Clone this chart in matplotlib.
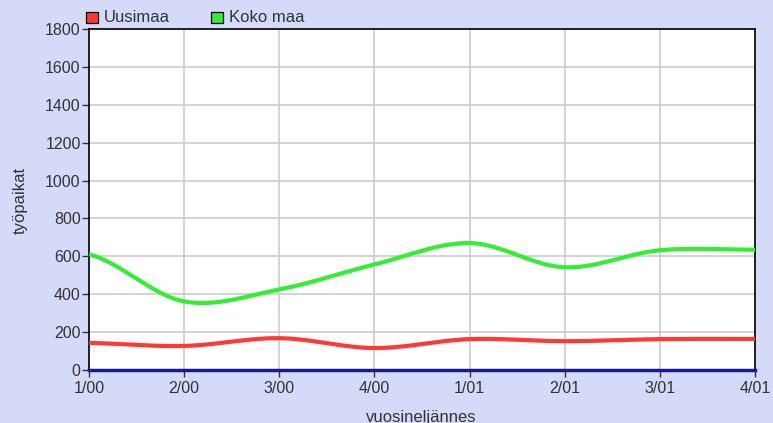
import numpy as np
import matplotlib
matplotlib.use("Agg")
import matplotlib.pyplot as plt
from matplotlib.patches import Rectangle

quarters = ["1/00", "2/00", "3/00", "4/00", "1/01", "2/01", "3/01", "4/01"]
uusimaa = [143, 127, 168, 116, 163, 152, 163, 164]
koko_maa = [610, 362, 425, 557, 670, 542, 632, 635]
yticks = [0, 200, 400, 600, 800, 1000, 1200, 1400, 1600, 1800]
series_names = ["Uusimaa", "Koko maa"]
series_colors = ["#FF3838", "#33EE33"]

plt.rcParams['font.family'] = ['Liberation Sans', 'DejaVu Sans']

def smooth(y, n=30, tension=0.5):
    y = np.asarray(y, float)
    x = np.arange(len(y), dtype=float)
    xs, ys = [], []
    for i in range(len(y) - 1):
        p0 = y[i - 1] if i > 0 else y[i]
        p1, p2 = y[i], y[i + 1]
        p3 = y[i + 2] if i + 2 < len(y) else y[i + 1]
        m1 = tension * (p2 - p0)
        m2 = tension * (p3 - p1)
        t = np.linspace(0, 1, n, endpoint=False)
        h00 = 2*t**3 - 3*t**2 + 1
        h10 = t**3 - 2*t**2 + t
        h01 = -2*t**3 + 3*t**2
        h11 = t**3 - t**2
        xs.append(x[i] + t)
        ys.append(h00*p1 + h10*m1 + h01*p2 + h11*m2)
    xs.append([x[-1]]); ys.append([y[-1]])
    return np.concatenate(xs), np.concatenate(ys)

W, H = 773, 423
bg = "#D4DAF7"
txt = "#333333"
fig = plt.figure(figsize=(W/100, H/100), dpi=100, facecolor=bg)
ax = fig.add_axes([89/W, 1 - 370/H, (755-89)/W, (370-29)/H])
ax.set_facecolor("white")

for vals, col in zip([uusimaa, koko_maa], series_colors):
    xs, ys = smooth(vals)
    ax.plot(xs, ys, color=col, lw=3.0, solid_capstyle="butt", zorder=3)

ax.set_xlim(0, len(quarters) - 1)
ax.set_ylim(0, 1800)
ax.set_xticks(range(len(quarters)))
ax.set_xticklabels(quarters)
ax.set_yticks(yticks)
ax.grid(True, color="#CCCCCC", lw=1.2)
ax.set_axisbelow(True)
for s in ["left", "top", "right"]:
    ax.spines[s].set_color("black")
    ax.spines[s].set_linewidth(1.2)
ax.spines["bottom"].set_color("#1A1A90")
ax.spines["bottom"].set_linewidth(2.5)
ax.spines["bottom"].set_zorder(4)
ax.tick_params(axis="both", direction="out", length=5, width=1, color=txt,
               labelsize=11.5, labelcolor=txt)
ax.tick_params(axis="y", pad=1)
ax.tick_params(axis="x", pad=3)

fig.text(20/W, 1 - 200/H, "työpaikat", rotation=90, ha="center", va="center",
         fontsize=12, color=txt)
fig.text(421/W, 1 - 417/H, "vuosineljännes", ha="center", va="center",
         fontsize=12, color=txt)

# legend
for name, col, x0 in zip(series_names, series_colors, [86, 211]):
    fig.patches.append(Rectangle((x0/W, 1 - 23/H), 12/W, 11/H, transform=fig.transFigure,
                                 facecolor=col, edgecolor="black", lw=0.9))
    fig.text((x0 + 18)/W, 1 - 17.5/H, name, ha="left", va="center",
             fontsize=12, color=txt)

fig.savefig("out.png", dpi=100, facecolor=bg)
